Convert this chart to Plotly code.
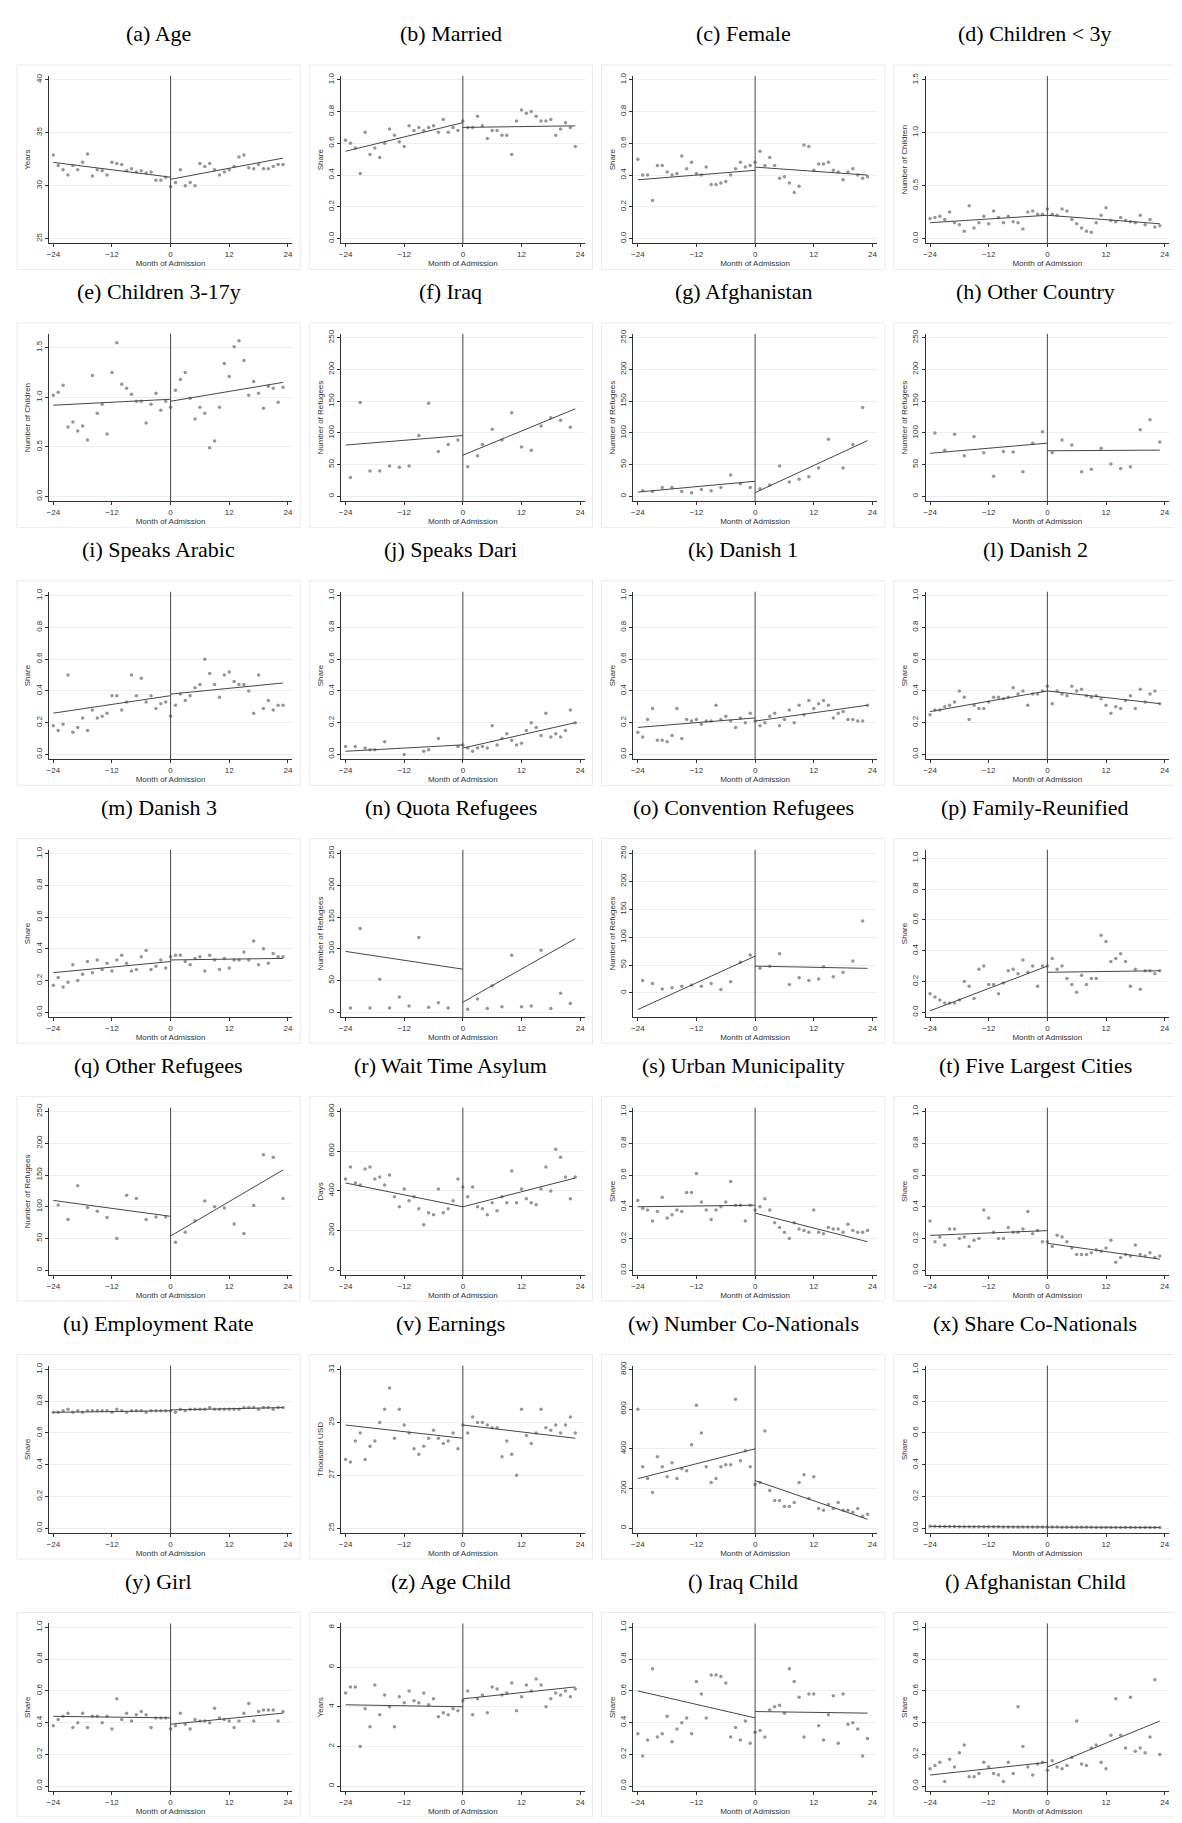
import plotly.graph_objects as go

# ---- data (left = months -24..-1, right = months 0..23) ----
age_left = [32.9, 31.9, 31.5, 31.0, 31.9, 31.5, 32.2, 33.0, 30.9, 31.5, 31.4, 31.0, 32.2, 32.1, 32.0, 31.4, 31.6, 31.3, 31.4, 31.2, 31.3, 30.5, 30.5, 30.8]
age_right = [29.9, 30.3, 31.5, 30.0, 30.3, 30.0, 32.1, 31.8, 32.1, 31.5, 31.0, 31.3, 31.5, 31.8, 32.7, 32.9, 31.7, 31.6, 32.0, 31.6, 31.6, 31.8, 32.0, 32.0]
age_fit = [32.2, 30.8, 30.6, 32.6]

married_left = [.62, .60, .57, .41, .67, .53, .57, .51, .60, .69, .65, .61, .58, .71, .68, .70, .68, .70, .71, .67, .75, .67, .70, .68]
married_right = [.74, .70, .70, .77, .71, .63, .68, .68, .65, .65, .53, .74, .81, .79, .80, .77, .74, .74, .75, .65, .69, .73, .70, .58]
married_fit = [.55, .73, .70, .71]

female_left = [.50, .40, .40, .24, .46, .46, .42, .40, .41, .52, .44, .48, .41, .40, .45, .34, .34, .35, .36, .40, .44, .48, .45, .46]
female_right = [.48, .55, .46, .51, .46, .38, .39, .35, .29, .33, .59, .58, .43, .47, .47, .48, .43, .42, .37, .42, .44, .40, .38, .39]
female_fit = [.37, .43, .45, .40]

kids3_left = [.19, .20, .21, .18, .25, .15, .13, .07, .31, .10, .15, .21, .14, .26, .20, .15, .21, .16, .15, .09, .25, .26, .23, .23]
kids3_right = [.28, .23, .22, .28, .26, .18, .14, .10, .07, .06, .15, .22, .29, .17, .16, .20, .17, .16, .15, .22, .13, .18, .11, .12]
kids3_fit = [.15, .22, .22, .14]

kids17_left = [1.02, 1.05, 1.12, .70, .75, .66, .71, .57, 1.22, .84, .93, .63, 1.25, 1.55, 1.13, 1.09, 1.03, .96, .96, .74, .93, 1.04, .87, .96]
kids17_right = [.90, 1.07, 1.18, 1.25, .99, .78, .90, .84, .49, .56, .90, 1.34, 1.21, 1.51, 1.57, 1.37, 1.02, 1.16, 1.04, .89, 1.11, 1.09, .95, 1.10]
kids17_fit = [.92, .98, .96, 1.15]

iraq_x = [-23, -21, -19, -17, -15, -13, -11, -9, -7, -5, -3, -1, 1, 3, 4, 6, 8, 10, 12, 14, 16, 18, 20, 22]
iraq_y = [30, 148, 40, 40, 48, 46, 48, 96, 147, 71, 82, 89, 47, 64, 82, 106, 89, 132, 78, 73, 111, 124, 120, 109]
iraq_fit = [81, 96, 65, 138]

afg_x = [-23, -21, -19, -17, -15, -13, -11, -9, -7, -5, -3, -1, 1, 3, 5, 7, 9, 11, 13, 15, 18, 20, 22]
afg_y = [9, 8, 14, 14, 8, 6, 11, 9, 14, 34, 20, 14, 12, 18, 48, 23, 27, 31, 45, 90, 45, 82, 140]
afg_fit = [7, 24, 6, 88]

other_x = [-23, -21, -19, -17, -15, -13, -11, -9, -7, -5, -3, -1, 1, 3, 5, 7, 9, 11, 13, 15, 17, 19, 21, 23]
other_y = [100, 73, 98, 64, 94, 69, 32, 71, 70, 39, 84, 102, 69, 89, 81, 39, 43, 76, 51, 44, 47, 105, 121, 86]
other_fit = [68, 84, 72, 73]

arabic_left = [.18, .15, .19, .50, .14, .17, .23, .15, .28, .23, .24, .26, .37, .37, .28, .33, .50, .37, .48, .33, .37, .29, .32, .33]
arabic_right = [.24, .31, .38, .34, .37, .42, .44, .60, .51, .44, .36, .50, .52, .46, .44, .44, .40, .26, .50, .29, .34, .28, .31, .31]
arabic_fit = [.26, .37, .38, .45]

dari_x = [-24, -22, -20, -19, -18, -16, -12, -8, -7, -5, -1, 0, 1, 2, 3, 4, 5, 6, 7, 8, 9, 10, 11, 12, 13, 14, 15, 16, 17, 18, 19, 20, 21, 22, 23]
dari_y = [.05, .05, .04, .03, .03, .08, .00, .02, .03, .10, .05, .06, .04, .02, .04, .05, .04, .18, .06, .10, .13, .09, .06, .07, .15, .20, .17, .12, .26, .11, .13, .11, .15, .28, .20]
dari_fit = [.02, .06, .04, .20]

dan1_left = [.14, .11, .22, .29, .09, .09, .08, .12, .29, .10, .22, .21, .22, .19, .21, .21, .31, .22, .24, .21, .17, .23, .20, .26]
dan1_right = [.21, .18, .20, .24, .26, .18, .22, .28, .20, .31, .25, .34, .29, .32, .34, .31, .23, .26, .27, .22, .22, .21, .21, .31]
dan1_fit = [.17, .23, .21, .31]

dan2_left = [.25, .28, .28, .30, .31, .33, .40, .36, .22, .31, .29, .29, .33, .36, .36, .35, .36, .42, .38, .40, .31, .38, .38, .40]
dan2_right = [.43, .32, .40, .38, .37, .43, .40, .41, .37, .36, .37, .35, .31, .26, .30, .29, .34, .37, .29, .41, .33, .38, .40, .32]
dan2_fit = [.27, .40, .40, .32]

dan3_left = [.17, .22, .16, .19, .30, .20, .24, .32, .25, .33, .27, .31, .26, .33, .36, .31, .26, .27, .35, .39, .27, .29, .33, .28]
dan3_right = [.35, .36, .36, .32, .30, .34, .35, .26, .36, .33, .27, .34, .28, .33, .33, .38, .33, .45, .30, .40, .31, .37, .35, .35]
dan3_fit = [.25, .32, .33, .34]

quota_x = [-23, -21, -19, -17, -15, -13, -11, -9, -7, -5, -3, 1, 3, 5, 6, 8, 10, 12, 14, 16, 18, 20, 22]
quota_y = [7, 132, 7, 52, 7, 24, 10, 118, 8, 15, 7, 5, 21, 6, 42, 9, 90, 9, 10, 98, 6, 30, 14]
quota_fit = [96, 68, 16, 116]

conv_x = [-23, -21, -19, -17, -15, -13, -11, -9, -7, -5, -3, -1, 1, 3, 5, 7, 9, 11, 13, 14, 16, 18, 20, 22]
conv_y = [22, 17, 7, 9, 12, 14, 12, 17, 6, 20, 55, 68, 44, 48, 70, 15, 27, 22, 25, 47, 29, 37, 57, 129]
conv_fit = [-30, 66, 48, 44]

family_left = [.09, .07, .05, .03, .03, .03, .05, .17, .14, .06, .25, .27, .15, .15, .09, .16, .24, .25, .22, .31, .23, .27, .14, .27]
family_right = [.27, .32, .25, .27, .19, .15, .10, .21, .15, .19, .19, .47, .43, .30, .32, .35, .30, .14, .25, .12, .24, .24, .22, .24]
family_fit = [-.02, .27, .23, .24]

otherref_x = [-23, -21, -19, -17, -15, -13, -11, -9, -7, -5, -3, -1, 1, 3, 5, 7, 9, 11, 13, 15, 17, 19, 21, 23]
otherref_y = [103, 80, 133, 99, 93, 83, 50, 118, 113, 80, 84, 84, 44, 60, 78, 109, 100, 98, 73, 58, 102, 182, 178, 113]
otherref_fit = [110, 85, 54, 158]

wait_left = [460, 520, 440, 430, 510, 520, 460, 470, 430, 480, 370, 320, 410, 350, 370, 310, 230, 290, 280, 410, 290, 310, 350, 460]
wait_right = [420, 370, 420, 320, 310, 280, 340, 300, 370, 340, 500, 340, 410, 360, 340, 330, 410, 520, 400, 610, 570, 470, 360, 470]
wait_fit = [440, 320, 320, 465]

urban_left = [.44, .39, .38, .31, .37, .46, .33, .35, .38, .37, .49, .49, .61, .43, .38, .32, .38, .40, .43, .56, .41, .41, .31, .41]
urban_right = [.38, .40, .45, .38, .30, .27, .24, .20, .30, .26, .25, .24, .38, .24, .23, .27, .26, .26, .24, .29, .25, .24, .24, .25]
urban_fit = [.40, .41, .36, .18]

five_left = [.31, .18, .21, .16, .26, .26, .20, .21, .15, .19, .20, .38, .33, .24, .20, .20, .27, .24, .24, .26, .37, .23, .25, .18]
five_right = [.18, .15, .22, .21, .18, .14, .10, .10, .10, .11, .13, .12, .14, .19, .05, .08, .10, .09, .16, .10, .09, .11, .08, .09]
five_fit = [.22, .25, .17, .07]

emp_left = [.73, .73, .74, .75, .73, .74, .73, .74, .74, .74, .74, .74, .73, .75, .74, .73, .74, .74, .74, .73, .74, .74, .74, .74]
emp_right = [.74, .73, .75, .74, .75, .75, .75, .75, .76, .75, .75, .75, .75, .75, .75, .76, .76, .76, .75, .76, .76, .75, .76, .76]
emp_fit = [.73, .74, .745, .76]

earn_left = [27.6, 27.5, 28.3, 28.6, 27.6, 28.1, 28.3, 29.0, 29.5, 30.3, 28.4, 29.5, 28.9, 28.6, 28.0, 27.8, 28.1, 28.4, 28.7, 28.4, 28.2, 28.3, 28.6, 28.0]
earn_right = [28.9, 28.6, 29.2, 29.0, 29.0, 28.9, 28.8, 28.8, 27.7, 28.3, 27.8, 27.0, 29.5, 28.5, 28.2, 28.6, 29.5, 28.8, 28.7, 28.9, 28.6, 28.9, 29.2, 28.6]
earn_fit = [28.9, 28.4, 28.9, 28.4]

conat_left = [600, 310, 250, 180, 360, 310, 260, 330, 250, 300, 290, 420, 620, 480, 310, 230, 250, 310, 320, 320, 650, 340, 390, 310]
conat_right = [220, 230, 490, 190, 140, 140, 110, 110, 130, 230, 270, 150, 260, 100, 90, 120, 100, 130, 90, 90, 80, 100, 60, 70]
conat_fit = [250, 400, 240, 45]

sconat_left = [.012, .012, .011, .011, .011, .011, .010, .010, .010, .010, .010, .009, .009, .009, .009, .008, .008, .008, .008, .008, .008, .007, .007, .007]
sconat_right = [.007, .007, .007, .006, .006, .006, .006, .006, .006, .006, .005, .005, .005, .005, .005, .005, .005, .005, .005, .005, .005, .005, .005, .005]
sconat_fit = [.011, .008, .007, .005]

girl_left = [.38, .42, .44, .46, .37, .40, .46, .37, .44, .44, .40, .44, .36, .55, .42, .46, .41, .45, .47, .45, .37, .43, .43, .43]
girl_right = [.36, .38, .46, .39, .36, .42, .41, .41, .40, .49, .43, .42, .41, .37, .41, .46, .52, .41, .47, .48, .48, .48, .41, .47]
girl_fit = [.44, .43, .39, .46]

agechild_left = [4.7, 5.0, 5.0, 2.0, 3.9, 3.0, 5.1, 3.6, 4.6, 4.0, 3.0, 4.5, 4.2, 4.8, 4.3, 4.2, 4.7, 4.1, 4.4, 3.5, 3.7, 3.6, 3.9, 3.8]
agechild_right = [4.3, 4.8, 3.6, 4.4, 4.6, 3.7, 5.0, 4.9, 4.6, 4.7, 5.2, 3.8, 4.5, 5.1, 4.8, 5.4, 5.1, 4.0, 4.4, 4.7, 4.6, 4.8, 4.5, 4.9]
agechild_fit = [4.1, 4.0, 4.4, 5.0]

iraqch_left = [.33, .19, .29, .74, .31, .33, .44, .28, .36, .40, .43, .33, .66, .58, .43, .70, .70, .69, .65, .31, .37, .29, .41, .27]
iraqch_right = [.34, .35, .31, .48, .50, .51, .46, .74, .66, .56, .31, .58, .58, .38, .29, .45, .57, .27, .58, .39, .40, .36, .19, .30]
iraqch_fit = [.60, .43, .47, .46]

afgch_left = [.11, .13, .15, .03, .17, .12, .21, .26, .06, .06, .08, .15, .12, .08, .07, .03, .15, .08, .50, .25, .12, .07, .14, .15]
afgch_right = [.10, .16, .12, .11, .13, .18, .41, .14, .13, .24, .26, .15, .11, .32, .55, .32, .24, .56, .22, .24, .21, .31, .67, .20]
afgch_fit = [.07, .15, .12, .41]

titles = ["(a) Age", "(b) Married", "(c) Female", "(d) Children < 3y",
          "(e) Children 3-17y", "(f) Iraq", "(g) Afghanistan", "(h) Other Country",
          "(i) Speaks Arabic", "(j) Speaks Dari", "(k) Danish 1", "(l) Danish 2",
          "(m) Danish 3", "(n) Quota Refugees", "(o) Convention Refugees", "(p) Family-Reunified",
          "(q) Other Refugees", "(r) Wait Time Asylum", "(s) Urban Municipality", "(t) Five Largest Cities",
          "(u) Employment Rate", "(v) Earnings", "(w) Number Co-Nationals", "(x) Share Co-Nationals",
          "(y) Girl", "(z) Age Child", "() Iraq Child", "() Afghanistan Child"]


def split(left, right):
    x = list(range(-len(left), 0)) + list(range(0, len(right)))
    return x, left + right


share = dict(ytitle="Share", yr=(0, 1), dt=0.2, fmt=".1f")
refug = dict(ytitle="Number of Refugees", yr=(0, 250), dt=50, fmt="d")

panels = [
    dict(xy=split(age_left, age_right), fit=age_fit, ytitle="Years", yr=(25, 40), dt=5, fmt="d"),
    dict(xy=split(married_left, married_right), fit=married_fit, **share),
    dict(xy=split(female_left, female_right), fit=female_fit, **share),
    dict(xy=split(kids3_left, kids3_right), fit=kids3_fit, ytitle="Number of Children", yr=(0, 1.5), dt=0.5, fmt=".1f"),
    dict(xy=split(kids17_left, kids17_right), fit=kids17_fit, ytitle="Number of Children", yr=(0, 1.6), dt=0.5, fmt=".1f"),
    dict(xy=(iraq_x, iraq_y), fit=iraq_fit, **refug),
    dict(xy=(afg_x, afg_y), fit=afg_fit, **refug),
    dict(xy=(other_x, other_y), fit=other_fit, **refug),
    dict(xy=split(arabic_left, arabic_right), fit=arabic_fit, **share),
    dict(xy=(dari_x, dari_y), fit=dari_fit, **share),
    dict(xy=split(dan1_left, dan1_right), fit=dan1_fit, **share),
    dict(xy=split(dan2_left, dan2_right), fit=dan2_fit, **share),
    dict(xy=split(dan3_left, dan3_right), fit=dan3_fit, **share),
    dict(xy=(quota_x, quota_y), fit=quota_fit, **refug),
    dict(xy=(conv_x, conv_y), fit=conv_fit, ytitle="Number of Refugees", yr=(-35, 250), dt=50, fmt="d"),
    dict(xy=split(family_left, family_right), fit=family_fit, ytitle="Share", yr=(-0.03, 1), dt=0.2, fmt=".1f"),
    dict(xy=(otherref_x, otherref_y), fit=otherref_fit, **refug),
    dict(xy=split(wait_left, wait_right), fit=wait_fit, ytitle="Days", yr=(0, 800), dt=200, fmt="d"),
    dict(xy=split(urban_left, urban_right), fit=urban_fit, **share),
    dict(xy=split(five_left, five_right), fit=five_fit, **share),
    dict(xy=split(emp_left, emp_right), fit=emp_fit, **share),
    dict(xy=split(earn_left, earn_right), fit=earn_fit, ytitle="Thousand USD", yr=(25, 31), dt=2, fmt="d"),
    dict(xy=split(conat_left, conat_right), fit=conat_fit, ytitle="", yr=(0, 800), dt=200, fmt="d"),
    dict(xy=split(sconat_left, sconat_right), fit=sconat_fit, **share),
    dict(xy=split(girl_left, girl_right), fit=girl_fit, **share),
    dict(xy=split(agechild_left, agechild_right), fit=agechild_fit, ytitle="Years", yr=(0, 8), dt=2, fmt="d"),
    dict(xy=split(iraqch_left, iraqch_right), fit=iraqch_fit, **share),
    dict(xy=split(afgch_left, afgch_right), fit=afgch_fit, **share),
]

W, H = 1182, 1823
COLW, ROWH = 293.0, 258.5
AX = dict(color="#333", size=8, family="Liberation Sans")

fig = go.Figure()
layout = dict(width=W, height=H, margin=dict(l=0, r=0, t=0, b=0),
              paper_bgcolor="white", plot_bgcolor="white", showlegend=False)
shapes, annotations = [], []

for i, p in enumerate(panels):
    r, c = divmod(i, 4)
    ox, oy = c * COLW + 2, r * ROWH
    n = "" if i == 0 else str(i + 1)
    xa, ya = "x" + n, "y" + n
    x, y = p["xy"]
    fit = p["fit"]
    lo, hi = p["yr"]
    span = hi - lo
    rng = [lo - span * 5 / 161, hi + span * 4 / 161]

    fig.add_trace(go.Scatter(x=x, y=y, mode="markers", xaxis=xa, yaxis=ya,
                             marker=dict(size=3.5, color="rgb(150,150,150)")))
    fig.add_trace(go.Scatter(x=[-24, 0], y=fit[:2], mode="lines", xaxis=xa, yaxis=ya,
                             line=dict(color="rgb(70,70,70)", width=1)))
    fig.add_trace(go.Scatter(x=[0, 23], y=fit[2:], mode="lines", xaxis=xa, yaxis=ya,
                             line=dict(color="rgb(70,70,70)", width=1)))

    ticks = []
    t = lo if p["ytitle"] != "Number of Refugees" or lo >= 0 else 0
    while t <= hi + 1e-9:
        ticks.append(round(t, 3))
        t += p["dt"]

    layout["xaxis" + n] = dict(
        domain=[(ox + 37) / W, (ox + 281) / W], range=[-24.9, 24.9], anchor=ya,
        tickvals=[-24, -12, 0, 12, 24], ticks="outside", ticklen=3, tickcolor="#333",
        showgrid=False, zeroline=False, showline=True, linecolor="#333", linewidth=1,
        tickfont=AX, title=dict(text="Month of Admission", font=AX, standoff=2))
    layout["yaxis" + n] = dict(
        domain=[1 - (oy + 232) / H, 1 - (oy + 64) / H], range=rng, anchor=xa,
        tickvals=ticks, tickformat=p["fmt"], tickangle=-90, ticks="outside", ticklen=3,
        tickcolor="#333", showgrid=True, gridcolor="rgb(232,240,242)", zeroline=False,
        showline=True, linecolor="#333", linewidth=1, tickfont=AX,
        title=dict(text=p["ytitle"], font=AX, standoff=2))

    shapes.append(dict(type="line", xref=xa, yref=ya + " domain", x0=0, x1=0, y0=0, y1=1,
                       line=dict(color="rgb(70,70,70)", width=1)))
    shapes.append(dict(type="rect", xref="paper", yref="paper",
                       x0=(ox + 5) / W, x1=(ox + 289) / W,
                       y0=1 - (oy + 258) / H, y1=1 - (oy + 53) / H,
                       line=dict(color="rgb(235,235,235)", width=1)))
    annotations.append(dict(text=titles[i], xref="paper", yref="paper",
                            x=(ox + 147) / W, y=1 - (oy + 22) / H, showarrow=False,
                            xanchor="center", yanchor="middle",
                            font=dict(family="Liberation Serif", size=22, color="black")))

layout["shapes"] = shapes
layout["annotations"] = annotations
fig.update_layout(**layout)
fig.write_html("out.html")
